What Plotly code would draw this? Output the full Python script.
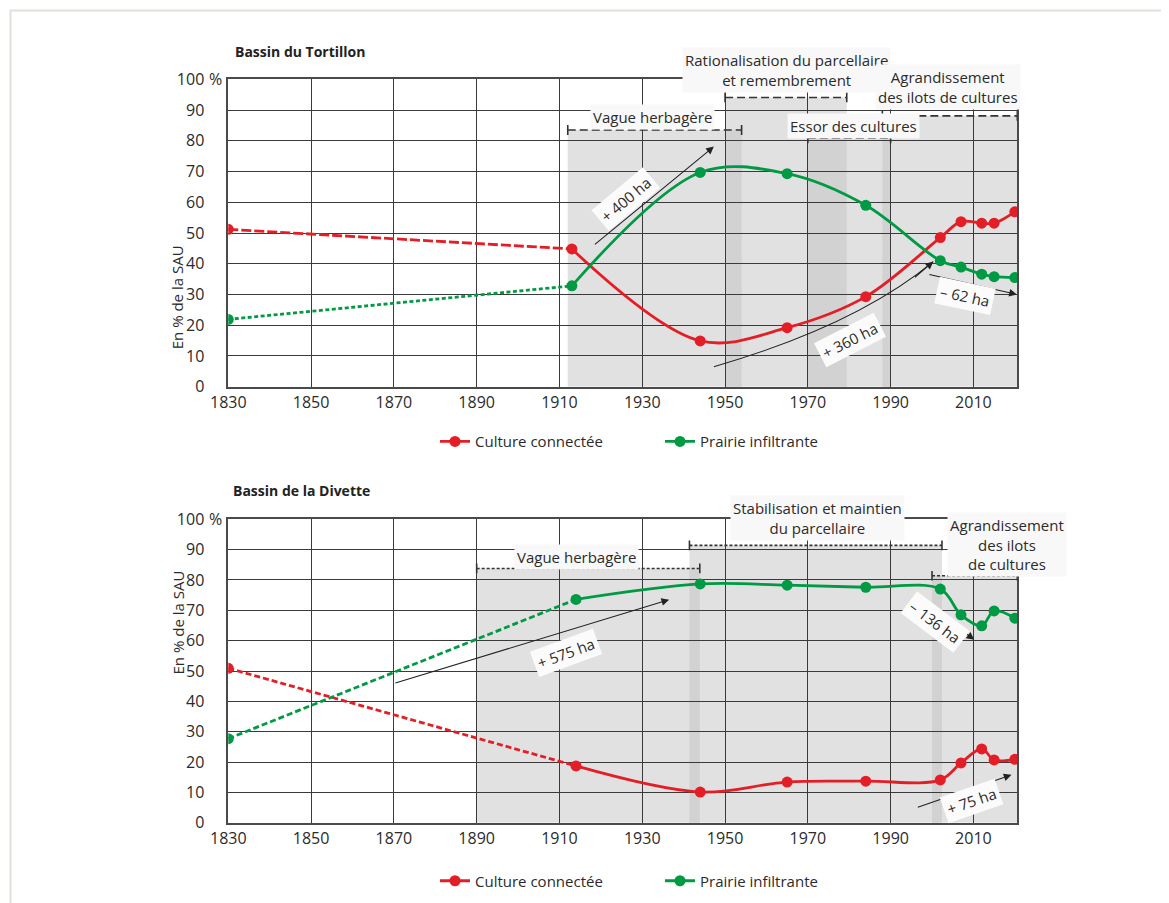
import plotly.graph_objects as go

# ---------------- data ----------------
years_tortillon = [1830, 1913, 1944, 1965, 1984, 2002, 2007, 2012, 2015, 2020]
culture_tortillon = [51.2, 44.8, 14.9, 19.2, 29.3, 48.5, 53.7, 53.2, 53.2, 56.9]
prairie_tortillon = [21.9, 32.8, 69.7, 69.3, 59.0, 41.0, 38.9, 36.6, 35.8, 35.5]

years_divette = [1830, 1914, 1944, 1965, 1984, 2002, 2007, 2012, 2015, 2020]
culture_divette = [50.9, 18.7, 10.1, 13.4, 13.7, 14.1, 19.7, 24.3, 20.7, 20.9]
prairie_divette = [27.7, 73.6, 78.7, 78.3, 77.6, 77.0, 68.5, 64.9, 69.8, 67.4]

phase_names_tortillon = ["Vague herbagère",
                         "Rationalisation du parcellaire<br>et remembrement",
                         "Essor des cultures",
                         "Agrandissement<br>des ilots de cultures"]
phase_start_tortillon = [1912, 1950, 1970, 1988]
phase_end_tortillon = [1954, 1979.4, 1990, 2020.6]
phase_level_tortillon = [83.5, 94.1, 80.8, 88.1]

phase_names_divette = ["Vague herbagère",
                       "Stabilisation et maintien<br>du parcellaire",
                       "Agrandissement<br>des ilots<br>de cultures"]
phase_start_divette = [1890, 1941.4, 2000]
phase_end_divette = [1943.9, 2002.4, 2020.6]
phase_level_divette = [83.8, 91.4, 81.4]

change_labels_tortillon = ["+ 400 ha", "+ 360 ha", "– 62 ha"]
change_labels_divette = ["+ 575 ha", "– 136 ha", "+ 75 ha"]

series_names = ["Culture connectée", "Prairie infiltrante"]
x_ticks = list(range(1830, 2011, 20))
y_ticks = list(range(0, 101, 10))
y_ticktext = [str(v) for v in y_ticks]

# ---------------- layout helpers ----------------
W, H = 1169, 903
OFF = 8  # page body margin
FONT = "Open Sans"
RED = "#e41e26"
GREEN = "#009a44"
TXT = "#2b2b2b"


def pxx(p):
    return (p - OFF) / W


def pxy(p):
    return 1 - (p - OFF) / H


fig = go.Figure()


def add_series(years, vals, color, dash, name, xa, ya, legend):
    fig.add_trace(go.Scatter(x=years[:2], y=vals[:2], mode="lines",
                             line=dict(color=color, width=2.8, dash=dash),
                             xaxis=xa, yaxis=ya, showlegend=False, hoverinfo="skip"))
    fig.add_trace(go.Scatter(x=years[:1], y=vals[:1], mode="markers",
                             marker=dict(color=color, size=11),
                             xaxis=xa, yaxis=ya, showlegend=False, hoverinfo="skip"))
    fig.add_trace(go.Scatter(x=years[1:], y=vals[1:], mode="lines+markers",
                             line=dict(color=color, width=2.8, shape="spline", smoothing=1.0),
                             marker=dict(color=color, size=11),
                             name=name, legend=legend, xaxis=xa, yaxis=ya))


add_series(years_tortillon, culture_tortillon, RED, "10px,3px", series_names[0], "x", "y", "legend")
add_series(years_tortillon, prairie_tortillon, GREEN, "4px,2.5px", series_names[1], "x", "y", "legend")
add_series(years_divette, culture_divette, RED, "6px,3px", series_names[0], "x2", "y2", "legend2")
add_series(years_divette, prairie_divette, GREEN, "6px,3px", series_names[1], "x2", "y2", "legend2")

shapes = []
annotations = []


def add_phases(starts, ends, levels, names, label_pos, xr, yr, dash):
    n = len(starts)
    for s, e, lv in zip(starts, ends, levels):
        shapes.append(dict(type="rect", xref=xr, yref=yr, x0=s, x1=e, y0=0, y1=lv,
                           fillcolor="#e1e1e1", line=dict(width=0), layer="below"))
    for i in range(n):
        for j in range(i + 1, n):
            s = max(starts[i], starts[j])
            e = min(ends[i], ends[j])
            if e > s:
                shapes.append(dict(type="rect", xref=xr, yref=yr, x0=s, x1=e, y0=0,
                                   y1=min(levels[i], levels[j]),
                                   fillcolor="#d2d2d2", line=dict(width=0), layer="below"))
    for s, e, lv in zip(starts, ends, levels):
        shapes.append(dict(type="line", xref=xr, yref=yr, x0=s, x1=e, y0=lv, y1=lv,
                           line=dict(color="#333", width=1.6, dash=dash)))
        for xe in (s, e):
            shapes.append(dict(type="line", xref=xr, yref=yr, x0=xe, x1=xe, y0=lv - 1.6, y1=lv + 1.6,
                               line=dict(color="#333", width=1.6)))
    # label positions: (year, pixel y on page)
    for name, (lx, ly) in zip(names, label_pos):
        annotations.append(dict(xref=xr, yref="paper", x=lx, y=pxy(ly), yanchor="middle",
                                text=name, showarrow=False,
                                font=dict(family=FONT, size=15, color=TXT),
                                bgcolor="#f8f8f8", borderpad=2, align="center"))


add_phases(phase_start_tortillon, phase_end_tortillon, phase_level_tortillon, phase_names_tortillon,
           [(1932.5, 117.0), (1964.9, 70.0), (1981, 126.0), (2003.8, 87.0)], "x", "y", "8px,4px")
add_phases(phase_start_divette, phase_end_divette, phase_level_divette, phase_names_divette,
           [(1914, 557.0), (1972.4, 517.5), (2018, 544.0)], "x2", "y2", "3px,2px")


def add_arrow(xr, yr, head, tail):
    annotations.append(dict(xref=xr, yref=yr, axref=xr, ayref=yr, x=head[0], y=head[1],
                            ax=tail[0], ay=tail[1], text="", showarrow=True, arrowhead=2,
                            arrowsize=1.4, arrowwidth=1.1, arrowcolor="#222", standoff=0))


def add_change_label(xr, yr, text, pos, angle):
    annotations.append(dict(xref=xr, yref=yr, x=pos[0], y=pos[1], text=text, showarrow=False,
                            textangle=angle, font=dict(family=FONT, size=15, color=TXT),
                            bgcolor="#fbfbfb", borderpad=3))


# Tortillon arrows
add_arrow("x", "y", (1947.3, 78.1), (1918.2, 45.9))
add_change_label("x", "y", change_labels_tortillon[0], (1926.1, 61.0), -40)
shapes.append(dict(type="path", xref="x", yref="y",
                   path="M 1947.3,6.5 Q 1981.8,20.0 2000.3,40.7",
                   line=dict(color="#222", width=1.1)))
add_arrow("x", "y", (2000.3, 40.7), (1995.5, 35.2))
add_change_label("x", "y", change_labels_tortillon[1], (1980.2, 15.2), -27)
add_arrow("x", "y", (2020.5, 30.0), (1999.0, 36.6))
add_change_label("x", "y", change_labels_tortillon[2], (2008.0, 29.5), 12)

# Divette arrows
add_arrow("x2", "y2", (1936.5, 73.5), (1870.0, 45.9))
add_change_label("x2", "y2", change_labels_divette[0], (1911.5, 56.0), -20)
add_arrow("x2", "y2", (2010.2, 60.3), (1999.6, 71.3))
add_change_label("x2", "y2", change_labels_divette[1], (2000.8, 66.3), 37)
add_arrow("x2", "y2", (2019.2, 15.8), (1996.2, 4.9))
add_change_label("x2", "y2", change_labels_divette[2], (2009.5, 7.2), -19)

# titles, axis titles, % signs
for text, x, y in [("<b>Bassin du Tortillon</b>", 233, 51.7), ("<b>Bassin de la Divette</b>", 230.7, 490.7)]:
    annotations.append(dict(xref="paper", yref="paper", x=pxx(x), y=pxy(y), xanchor="left",
                            yanchor="middle", text=text, showarrow=False,
                            font=dict(family=FONT, size=14, color="#222")))
for y in (243.3, 676.5):
    annotations.append(dict(xref="paper", yref="paper", x=pxx(165), y=pxy(y), text="En % de la SAU",
                            textangle=-90, showarrow=False, font=dict(family=FONT, size=15, color=TXT)))
for yr in ("y", "y2"):
    annotations.append(dict(xref="paper", yref=yr, x=pxx(207), y=100, xanchor="left", text="%",
                            showarrow=False, font=dict(family=FONT, size=16, color=TXT)))

# outer frame
shapes.append(dict(type="rect", xref="paper", yref="paper", x0=pxx(10.5), x1=1.05, y0=-0.05, y1=pxy(10.5),
                   line=dict(color="#e3e0d7", width=2), fillcolor="rgba(0,0,0,0)"))

xaxis_common = dict(range=[1830, 2020.6], tickvals=x_ticks, showgrid=True, gridcolor="#3a3a3a",
                    gridwidth=1.2, showline=True, mirror=True, linecolor="#4a4a4a", linewidth=1.6,
                    zeroline=False, ticks="", tickfont=dict(family=FONT, size=16, color=TXT),
                    fixedrange=True, automargin=False)
yaxis_common = dict(range=[0, 100], tickvals=y_ticks, ticktext=y_ticktext, showgrid=True,
                    gridcolor="#3a3a3a", gridwidth=1.2, showline=True, mirror=True,
                    linecolor="#4a4a4a", linewidth=1.6, zeroline=False, ticks="",
                    ticklabelstandoff=19, tickfont=dict(family=FONT, size=16, color=TXT),
                    fixedrange=True, automargin=False)

xdom = [pxx(228.3), pxx(1017.3)]
fig.update_layout(
    template="none",
    width=W, height=H, autosize=False,
    margin=dict(l=0, r=0, t=0, b=0, pad=0, autoexpand=False),
    paper_bgcolor="white", plot_bgcolor="white",
    font=dict(family=FONT, color=TXT),
    xaxis=dict(domain=xdom, anchor="y", **xaxis_common),
    yaxis=dict(domain=[pxy(386.7), pxy(79.3)], anchor="x", **yaxis_common),
    xaxis2=dict(domain=xdom, anchor="y2", **xaxis_common),
    yaxis2=dict(domain=[pxy(822.7), pxy(519.3)], anchor="x2", **yaxis_common),
    legend=dict(orientation="h", x=pxx(435), xanchor="left", y=pxy(441.7), yanchor="middle",
                font=dict(family=FONT, size=15, color=TXT), entrywidth=180, entrywidthmode="pixels",
                bgcolor="rgba(0,0,0,0)"),
    legend2=dict(orientation="h", x=pxx(435), xanchor="left", y=pxy(881), yanchor="middle",
                 font=dict(family=FONT, size=15, color=TXT), entrywidth=180, entrywidthmode="pixels",
                 bgcolor="rgba(0,0,0,0)"),
    shapes=shapes,
    annotations=annotations,
    showlegend=True,
)

fig.write_html("out.html")
